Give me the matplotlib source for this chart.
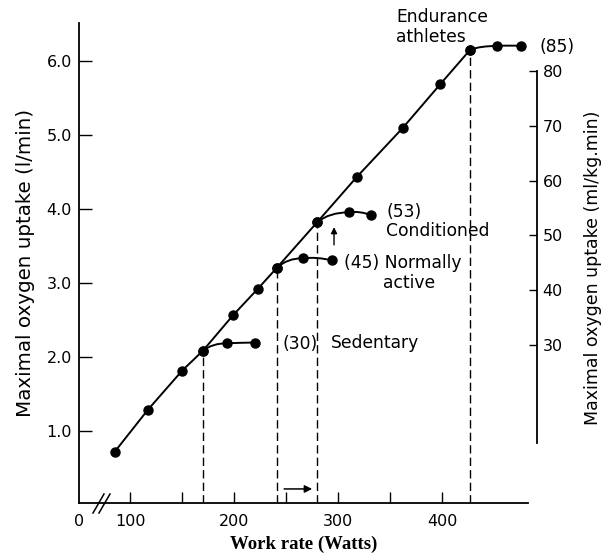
import matplotlib
matplotlib.use("Agg")
import matplotlib.pyplot as plt
from matplotlib.path import Path
from matplotlib.patches import PathPatch
from matplotlib.lines import Line2D

# ---------------- data ----------------
work_main = [85, 117, 150, 170, 199, 223, 241, 280, 318, 362, 398, 427]
vo2_main = [0.71, 1.28, 1.81, 2.08, 2.56, 2.92, 3.20, 3.82, 4.43, 5.09, 5.68, 6.15]

sed_work = [170, 193, 220]
sed_vo2 = [2.08, 2.18, 2.19]
act_work = [241, 266, 294]
act_vo2 = [3.20, 3.33, 3.30]
con_work = [280, 310, 332]
con_vo2 = [3.82, 3.95, 3.91]
ath_work = [427, 453, 476]
ath_vo2 = [6.15, 6.20, 6.20]

x_ticks = [100, 200, 300, 400]
x_tick_labels = ["100", "200", "300", "400"]
x_minor_ticks = [150, 250, 350]
y_ticks = [1.0, 2.0, 3.0, 4.0, 5.0, 6.0]
y_tick_labels = ["1.0", "2.0", "3.0", "4.0", "5.0", "6.0"]
y2_ticks = [30, 40, 50, 60, 70, 80]
y2_tick_labels = ["30", "40", "50", "60", "70", "80"]

# text annotations: (text, work rate, vo2)
annotations = [
    ("Endurance\nathletes", 356, 6.45),
    ("(85)", 494, 6.18),
    ("(53)", 346, 3.95),
    ("Conditioned", 346, 3.70),
    ("(45) Normally", 306, 3.27),
    ("active", 343, 2.99),
    ("(30)", 246, 2.17),
    ("Sedentary", 293, 2.18),
]

# conversion l/min -> ml/kg.min for right axis
conv_a, conv_b = 0.83, 13.52

# ---------------- figure ----------------
W, H = 603, 556
fig = plt.figure(figsize=(W / 100, H / 100), dpi=100)
ax = fig.add_axes([79 / W, 1 - 503 / H, (528 - 79) / W, (503 - 23) / H])
xmin, xmax = 50.8, 482.5
ymin, ymax = 0.02, 6.51
ax.set_xlim(xmin, xmax)
ax.set_ylim(ymin, ymax)

for s in ["top", "right"]:
    ax.spines[s].set_visible(False)
for s in ["left", "bottom"]:
    ax.spines[s].set_linewidth(1.3)

ax.set_xticks(x_ticks)
ax.set_xticklabels(x_tick_labels)
ax.set_xticks(x_minor_ticks, minor=True)
ax.set_yticks(y_ticks)
ax.set_yticklabels(y_tick_labels)
ax.tick_params(axis="both", which="both", direction="in", width=1.0, labelsize=11.5)
ax.tick_params(axis="x", which="both", length=8, pad=8)
ax.tick_params(axis="y", length=9, pad=5)

ax.set_ylabel("Maximal oxygen uptake (l/min)", fontsize=14.3, labelpad=8)
ax.set_xlabel("Work rate (Watts)", fontsize=13.5, fontweight="bold",
              family="Liberation Serif", labelpad=5)

# "0" at the origin and the axis break marks
ax.text(xmin, -0.125, "0", transform=ax.transData, ha="center", va="top",
        fontsize=11.5, clip_on=False)
for off in (0, 6):
    fig.add_artist(Line2D([(93 + off) / W, (104 + off) / W],
                          [1 - 513 / H, 1 - 494 / H],
                          transform=fig.transFigure, color="black", lw=1.1))

# dashed verticals
for xs, ys in [(sed_work, sed_vo2), (act_work, act_vo2),
               (con_work, con_vo2), (ath_work, ath_vo2)]:
    ax.plot([xs[0], xs[0]], [ymin, ys[0]], ls=(0, (6, 3)), color="black", lw=1.0)

# main line
ax.plot(work_main, vo2_main, color="black", lw=1.4, marker="o", ms=6.5, zorder=3)


def branch(xs, ys):
    verts = [(xs[0], ys[0]),
             (xs[0] + 0.4 * (xs[1] - xs[0]), ys[1]), (xs[1], ys[1]),
             ((xs[1] + xs[2]) / 2, ys[1] + 0.3 * (ys[1] - ys[2]) + 0.01), (xs[2], ys[2])]
    codes = [Path.MOVETO, Path.CURVE3, Path.CURVE3, Path.CURVE3, Path.CURVE3]
    ax.add_patch(PathPatch(Path(verts, codes), fill=False, lw=1.4,
                           edgecolor="black", zorder=3))
    ax.plot(xs, ys, ls="none", marker="o", ms=6.5, color="black", zorder=4)


for xs, ys in [(sed_work, sed_vo2), (act_work, act_vo2),
               (con_work, con_vo2), (ath_work, ath_vo2)]:
    branch(xs, ys)

# arrows
ax.annotate("", xy=(275, 0.21), xytext=(248, 0.21),
            arrowprops=dict(arrowstyle="-|>", color="black", lw=1.1,
                            mutation_scale=11, shrinkA=0, shrinkB=0))
ax.annotate("", xy=(296, 3.75), xytext=(296, 3.51),
            arrowprops=dict(arrowstyle="-|>", color="black", lw=1.0,
                            mutation_scale=9, shrinkA=0, shrinkB=0))

for txt, x, y in annotations:
    ax.text(x, y, txt, ha="left", va="center", fontsize=12.3,
            linespacing=1.15, clip_on=False)

# right axis
ax2 = ax.twinx()
ax2.set_ylim(conv_a + conv_b * ymin, conv_a + conv_b * ymax)
for s in ["top", "left", "bottom"]:
    ax2.spines[s].set_visible(False)
ax2.spines["right"].set_position(("outward", 6.5))
ax2.spines["right"].set_bounds(12, 80)
ax2.spines["right"].set_linewidth(1.3)
ax2.set_yticks(y2_ticks)
ax2.set_yticklabels(y2_tick_labels)
ax2.tick_params(axis="y", direction="in", length=6, width=1.0, pad=4, labelsize=11.5)
ax2.set_ylabel("Maximal oxygen uptake (ml/kg.min)", fontsize=12.5)
ax2.yaxis.set_label_coords(1.125, 0.49)

fig.savefig("out.png", dpi=100)
